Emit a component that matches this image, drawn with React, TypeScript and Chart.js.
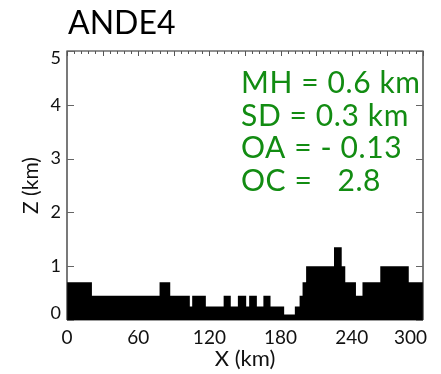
import React, { useEffect, useRef } from "react";
import { Chart, registerables } from "chart.js";

Chart.register(...registerables);

const TITLE = "ANDE4";
const X_LABEL = "X (km)";
const Y_LABEL = "Z (km)";
const X_MIN = 0;
const X_MAX = 300;
const Y_MIN = 0;
const Y_MAX = 5;
const X_TICKS = [0, 60, 120, 180, 240, 300];
const Y_TICKS = [0, 1, 2, 3, 4, 5];
// terrain step profile: start of each step (km) and its height (km)
const STEP_X = [0, 21, 78, 87, 103.5, 105.5, 117, 132, 138, 144, 151, 153.5, 160, 165.5, 171.5, 183, 192, 196, 198.5, 201.5, 225, 231.5, 234.5, 243.5, 249, 264, 288, 300];
const STEP_H = [0.7, 0.45, 0.7, 0.45, 0.25, 0.45, 0.25, 0.45, 0.25, 0.45, 0.25, 0.45, 0.25, 0.45, 0.25, 0.1, 0.25, 0.45, 0.7, 1.0, 1.35, 1.0, 0.7, 0.45, 0.7, 1.0, 0.7, 0.7];
const STATS = ["MH = 0.6 km", "SD = 0.3 km", "OA = - 0.13", "OC =   2.8"];

const FONT = "Lato, 'Open Sans', sans-serif";
const STAT_FONT = "Lato, 'Open Sans', sans-serif";
const GREEN = "#128c12";

const overlayPlugin = {
  id: "overlay",
  afterDraw(chart: any) {
    const { ctx, chartArea } = chart;
    const xs = chart.scales.x;
    const ys = chart.scales.y;
    const { left, right, top, bottom } = chartArea;
    ctx.save();
    // frame
    ctx.strokeStyle = "#222";
    ctx.lineWidth = 1.2;
    ctx.beginPath();
    ctx.moveTo(left, bottom);
    ctx.lineTo(left, top);
    ctx.lineTo(right, top);
    ctx.lineTo(right, bottom);
    ctx.stroke();
    ctx.strokeStyle = "#999";
    ctx.beginPath();
    ctx.moveTo(left, bottom + 0.5);
    ctx.lineTo(right, bottom + 0.5);
    ctx.stroke();
    // y ticks inward, both sides
    ctx.strokeStyle = "#666";
    ctx.lineWidth = 1;
    for (const v of Y_TICKS) {
      const py = Math.round(ys.getPixelForValue(v)) + 0.5;
      ctx.beginPath();
      ctx.moveTo(left, py);
      ctx.lineTo(left + 7, py);
      ctx.moveTo(right, py);
      ctx.lineTo(right - 7, py);
      ctx.stroke();
    }
    // top axis ticks: minor every 6 km, major every 30 km
    ctx.strokeStyle = "#555";
    for (let v = X_MIN; v <= X_MAX; v += 6) {
      const px = Math.round(xs.getPixelForValue(v)) + 0.5;
      const len = v % 30 === 0 ? 5 : 3;
      ctx.beginPath();
      ctx.moveTo(px, top);
      ctx.lineTo(px, top + len);
      ctx.stroke();
    }
    // y tick labels (end labels kept inside the frame, as in the original)
    ctx.fillStyle = "#111";
    ctx.font = `18px ${FONT}`;
    ctx.textAlign = "right";
    ctx.textBaseline = "middle";
    for (const v of Y_TICKS) {
      let py = ys.getPixelForValue(v);
      py = Math.min(Math.max(py, top + 7), bottom - 7);
      ctx.fillText(String(v), left - 6, py);
    }
    // x tick labels
    ctx.font = `19px ${FONT}`;
    ctx.textAlign = "center";
    ctx.textBaseline = "middle";
    for (const v of X_TICKS) {
      const label = String(v);
      const w = ctx.measureText(label).width;
      let px = xs.getPixelForValue(v);
      px = Math.min(px, right + 4 - w / 2);
      ctx.fillText(label, px, bottom + 18);
    }
    // title
    ctx.fillStyle = "#000";
    ctx.font = `32px ${FONT}`;
    ctx.textAlign = "left";
    ctx.textBaseline = "alphabetic";
    ctx.fillText(TITLE, left + 1, 34);
    // stats
    ctx.fillStyle = GREEN;
    ctx.font = `30px ${STAT_FONT}`;
    try { (ctx as any).letterSpacing = "0.6px"; } catch (e) {}
    STATS.forEach((s, i) => {
      ctx.fillText(s, left + 174, top + 42 + i * 32.7);
    });
    ctx.restore();
  },
};

export default function App() {
  const canvasRef = useRef<HTMLCanvasElement | null>(null);

  useEffect(() => {
    if (!canvasRef.current) return;
    const points = STEP_X.map((x, i) => ({ x, y: STEP_H[i] }));
    const chart = new Chart(canvasRef.current, {
      type: "line",
      data: {
        datasets: [
          {
            data: points,
            stepped: "before" as any,
            fill: "origin",
            backgroundColor: "#000",
            borderColor: "#000",
            borderWidth: 0,
            pointRadius: 0,
          },
        ],
      },
      options: {
        animation: false,
        responsive: true,
        maintainAspectRatio: false,
        layout: { padding: { top: 51, right: 18, left: 0, bottom: 0 } },
        plugins: {
          legend: { display: false },
          tooltip: { enabled: false },
          title: { display: false },
        },
        scales: {
          x: {
            type: "linear",
            min: X_MIN,
            max: X_MAX,
            afterBuildTicks: (scale: any) => {
              scale.ticks = X_TICKS.map((v) => ({ value: v }));
            },
            afterFit: (scale: any) => {
              scale.height = 54;
            },
            grid: { display: false, drawTicks: false },
            border: { display: false },
            ticks: { display: false },
            title: {
              display: true,
              text: X_LABEL,
              color: "#111",
              font: { family: FONT, size: 22 },
              padding: { top: 0, bottom: 2 },
            },
          },
          y: {
            type: "linear",
            min: Y_MIN,
            max: Y_MAX,
            afterBuildTicks: (scale: any) => {
              scale.ticks = Y_TICKS.map((v) => ({ value: v }));
            },
            afterFit: (scale: any) => {
              scale.width = 67;
            },
            grid: { display: false, drawTicks: false },
            border: { display: false },
            ticks: { display: false },
            title: {
              display: true,
              text: Y_LABEL,
              color: "#111",
              font: { family: FONT, size: 21 },
              padding: { top: 19, bottom: 0 },
            },
          },
        },
      },
      plugins: [overlayPlugin],
    });
    return () => chart.destroy();
  }, []);

  return (
    <div style={{ position: "absolute", left: 0, top: 0, width: 441, height: 374, background: "#fff" }}>
      <canvas ref={canvasRef} />
    </div>
  );
}
